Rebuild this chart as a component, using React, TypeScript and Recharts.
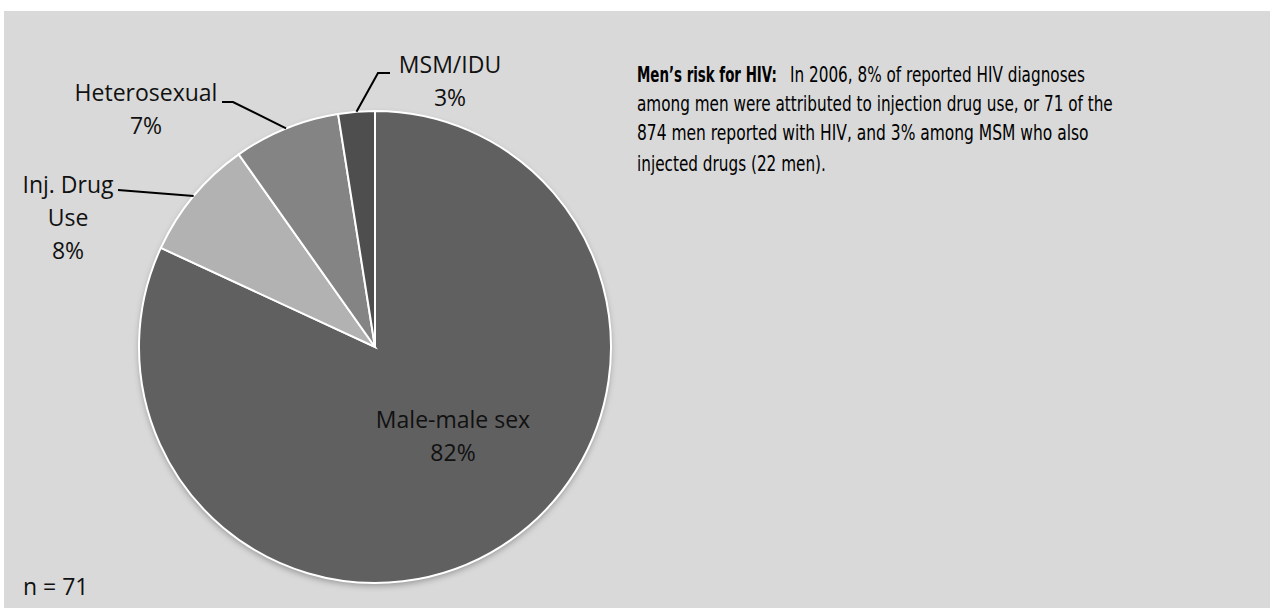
import { useLayoutEffect, useRef, useState } from "react";
import { PieChart, Pie, Cell } from "recharts";

const categories = ["Male-male sex", "Inj. Drug\nUse", "Heterosexual", "MSM/IDU"];
const shares = [81.9, 8.3, 7.3, 2.5];
const colors = ["#606060", "#b2b2b2", "#848484", "#4e4e4e"];

const noteBold = "Men\u2019s risk for HIV:";
const noteLines = [
  "In 2006, 8% of reported HIV diagnoses",
  "among men were attributed to injection drug use, or 71 of the",
  "874 men reported with HIV, and 3% among MSM who also",
  "injected drugs (22 men).",
];
const sampleSize = "n = 71";

const data = categories.map((name, i) => ({ name, value: shares[i] }));

// where each label sits (page px) and the elbow points of its leader line
const labelLayout = [
  { x: 453, y: 420, lead: [] as number[][] },
  { x: 68, y: 185, lead: [[118, 190]] },
  { x: 146, y: 93, lead: [[233, 102], [222, 102]] },
  { x: 450, y: 65, lead: [[378, 73], [390, 73]] },
];

const RADIAN = Math.PI / 180;
const labelFont = "'Open Sans', sans-serif";
const noteFont = "'Liberation Sans Narrow', 'DejaVu Sans Condensed', sans-serif";

function renderLabel(props: any) {
  const { cx, cy, midAngle, outerRadius, index, value } = props;
  const lay = labelLayout[index];
  const ex = cx + outerRadius * Math.cos(-midAngle * RADIAN);
  const ey = cy + outerRadius * Math.sin(-midAngle * RADIAN);
  const pts = [[ex, ey], ...lay.lead];
  const lines = [...categories[index].split("\n"), `${Math.round(value)}%`];
  return (
    <g key={`lbl-${index}`}>
      {lay.lead.length > 0 && (
        <polyline
          points={pts.map((p) => p.join(",")).join(" ")}
          fill="none"
          stroke="#000"
          strokeWidth={2}
        />
      )}
      <text
        x={lay.x}
        y={lay.y + 8}
        textAnchor="middle"
        fontFamily={labelFont}
        fontSize={23}
        fill="#111"
      >
        {lines.map((l, j) => (
          <tspan key={j} x={lay.x} dy={j === 0 ? 0 : 33}>
            {l}
          </tspan>
        ))}
      </text>
    </g>
  );
}

// note paragraph: start x, baseline y and the width each run takes
const noteRuns = [
  { text: noteBold, x: 637, y: 82, w: 140, bold: true },
  { text: noteLines[0], x: 790, y: 82, w: 295, bold: false },
  { text: noteLines[1], x: 637, y: 111, w: 476, bold: false },
  { text: noteLines[2], x: 637, y: 140, w: 452, bold: false },
  { text: noteLines[3], x: 637, y: 171, w: 189, bold: false },
];

// squeezes a run horizontally so it spans w px (condensed face look)
function FitText({ x, y, w, bold, text }: { x: number; y: number; w: number; bold: boolean; text: string }) {
  const ref = useRef<SVGTextElement>(null);
  const [sx, setSx] = useState(1);
  useLayoutEffect(() => {
    if (ref.current) {
      const len = ref.current.getComputedTextLength();
      if (len > 0) setSx(w / len);
    }
  }, [w, text]);
  return (
    <text
      ref={ref}
      transform={`translate(${x},${y}) scale(${sx},1)`}
      fontFamily={noteFont}
      fontWeight={bold ? "bold" : "normal"}
      fontSize={bold ? 22 : 21}
      fill="#000"
    >
      {text}
    </text>
  );
}

export default function App() {
  return (
    <div style={{ position: "relative", width: 1270, height: 608, background: "#fff" }}>
      <style>{"body{margin:0}"}</style>
      <div
        style={{
          position: "absolute",
          left: 4,
          top: 11,
          width: 1266,
          height: 597,
          background: "#d9d9d9",
        }}
      />
      <svg width={0} height={0} style={{ position: "absolute" }}>
        <defs>
          <filter id="pieShadow" x="-10%" y="-10%" width="120%" height="120%">
            <feGaussianBlur stdDeviation="3" />
          </filter>
        </defs>
      </svg>
      <div style={{ position: "absolute", left: 0, top: 0 }}>
        <PieChart width={1270} height={608}>
          <Pie
            data={data}
            dataKey="value"
            cx={370}
            cy={345}
            outerRadius={236}
            startAngle={90}
            endAngle={-270}
            stroke="none"
            isAnimationActive={false}
          >
            {data.map((d) => (
              <Cell key={`s-${d.name}`} fill="#000" fillOpacity={0.3} filter="url(#pieShadow)" />
            ))}
          </Pie>
          <Pie
            data={data}
            dataKey="value"
            nameKey="name"
            cx={370}
            cy={342}
            outerRadius={236}
            startAngle={90}
            endAngle={-270}
            stroke="#ffffff"
            strokeWidth={2}
            label={renderLabel}
            labelLine={false}
            isAnimationActive={false}
          >
            {data.map((d, i) => (
              <Cell key={d.name} fill={colors[i]} />
            ))}
          </Pie>
        </PieChart>
      </div>
      <svg
        width={1270}
        height={608}
        style={{ position: "absolute", left: 0, top: 0, pointerEvents: "none" }}
      >
        {noteRuns.map((r, i) => (
          <FitText key={i} {...r} />
        ))}
        <text x={23} y={595} fontFamily={labelFont} fontSize={23} fill="#111">
          {sampleSize}
        </text>
      </svg>
    </div>
  );
}
